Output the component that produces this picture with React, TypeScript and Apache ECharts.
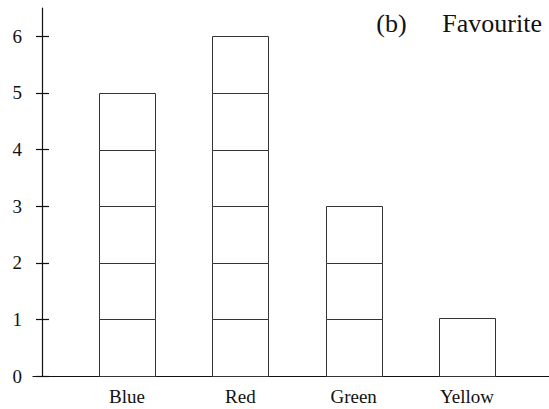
import React, { useEffect, useRef } from "react";
import * as echarts from "echarts";

const categories = ["Blue", "Red", "Green", "Yellow"];
const counts = [5, 6, 3, 1.03];
const yTicks = [0, 1, 2, 3, 4, 5, 6];
const titleTag = "(b)";
const titleText = "Favourite";

export default function App() {
  const ref = useRef<HTMLDivElement>(null);
  useEffect(() => {
    const chart = echarts.init(ref.current!, null, { renderer: "svg" });
    const positions = categories.map((_, i) => i + 1);
    const font = "'Liberation Serif', 'Times New Roman', serif";
    const lineStyle = { color: "#111", width: 1.2 };
    const halfW = 0.248;
    chart.setOption({
      animation: false,
      title: {
        text: `{a|${titleTag}}{b|${titleText}}`,
        right: 2,
        top: 5,
        textStyle: {
          fontWeight: "normal",
          rich: {
            a: { fontFamily: font, fontSize: 26, fontWeight: "normal", color: "#111", width: 66 },
            b: { fontFamily: font, fontSize: 26, fontWeight: "normal", color: "#111" },
          },
        },
      },
      grid: { left: 33, right: 0, top: 8, bottom: 33 },
      xAxis: {
        type: "value",
        min: 0.17,
        max: 4.724,
        splitLine: { show: false },
        axisTick: { show: false },
        axisLine: { show: true, onZero: false, lineStyle },
        axisLabel: {
          customValues: positions,
          formatter: (v: number) => categories[Math.round(v) - 1] ?? "",
          margin: 11,
          fontFamily: font,
          fontSize: 19,
          color: "#111",
        },
      },
      yAxis: [
        {
          type: "value",
          min: 0,
          max: 6.5,
          offset: -9,
          axisLine: { show: true, onZero: false, lineStyle },
          axisTick: { show: true, length: 6, customValues: yTicks, lineStyle },
          axisLabel: {
            customValues: yTicks,
            margin: 20,
            fontFamily: font,
            fontSize: 19,
            color: "#111",
          },
          splitLine: { show: false },
        },
        {
          type: "value",
          min: 0,
          max: 6.5,
          offset: -9,
          position: "left",
          axisLine: { show: false },
          axisTick: { show: true, inside: true, length: 7, customValues: yTicks, lineStyle },
          axisLabel: { show: false },
          splitLine: { show: false },
        },
      ],
      series: [
        {
          type: "custom",
          xAxisIndex: 0,
          yAxisIndex: 0,
          data: categories.map((_, i) => [positions[i], counts[i]]),
          encode: { x: 0, y: 1 },
          renderItem: (params: any, api: any) => {
            const x = api.value(0);
            const v = api.value(1);
            const n = Math.max(1, Math.round(v));
            const h = v / n;
            const children: any[] = [];
            for (let k = 0; k < n; k++) {
              const p0 = api.coord([x - halfW, k * h]);
              const p1 = api.coord([x + halfW, (k + 1) * h]);
              const x0 = Math.round(p0[0]) + 0.5;
              const x1 = Math.round(p1[0]) + 0.5;
              const y0 = Math.round(p0[1]) + 0.5;
              const y1 = Math.round(p1[1]) + 0.5;
              children.push({
                type: "rect",
                shape: { x: x0, y: y1, width: x1 - x0, height: y0 - y1 },
                style: { fill: "#fff", stroke: "#333", lineWidth: 1 },
              });
            }
            return { type: "group", children };
          },
        },
      ],
    });
    return () => chart.dispose();
  }, []);
  return (
    <div
      ref={ref}
      style={{ position: "absolute", left: 0, top: 0, width: 549, height: 409 }}
    />
  );
}
